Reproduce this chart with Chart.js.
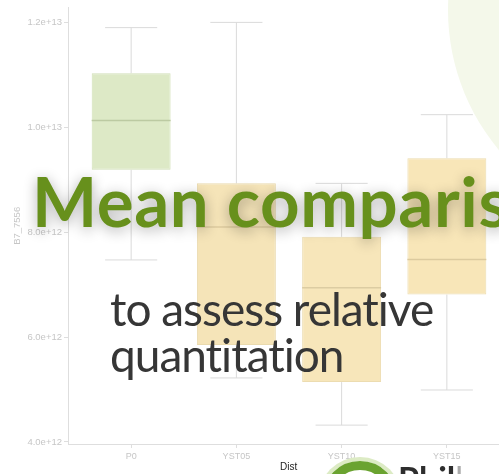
<!DOCTYPE html>
<html>
<head>
<meta charset="utf-8">
<script src="https://cdn.jsdelivr.net/npm/chart.js@4"></script>
<style>
  html, body { margin: 0; padding: 0; width: 499px; height: 474px; overflow: hidden; background: #fff; }
  body { position: relative; }
  #deco { position: absolute; left: 448px; top: -208px; width: 436px; height: 436px; border-radius: 50%; background: #f4f8ea; }
  #wrap { position: absolute; left: 0; top: 0; width: 510px; height: 474px; }
  #title { position: absolute; left: 32px; top: 161px; font-family: Lato, sans-serif; font-weight: 700; font-size: 69px; line-height: 80px; letter-spacing: 0.6px; color: #67901c; white-space: nowrap; text-shadow: 0 3px 14px rgba(0,0,0,0.32); }
  #sub { position: absolute; left: 110px; top: 286px; font-family: Lato, sans-serif; font-size: 46px; line-height: 46px; letter-spacing: -1px; color: #363636; white-space: nowrap; }
  #dist { position: absolute; left: 280px; top: 461px; font-family: "Liberation Sans", Arial, sans-serif; font-size: 10px; color: #222; }
  #logo { position: absolute; left: 322px; top: 461px; width: 58px; height: 58px; border-radius: 50%; border: 9px solid #6aa330; box-shadow: 0 0 0 4px #dcebc4; }
  #brand { position: absolute; left: 398px; top: 458px; font-family: Lato, sans-serif; font-weight: 700; font-size: 34px; color: #2e2e2e; white-space: nowrap; }
</style>
</head>
<body>
<div id="deco"></div>
<div id="wrap"><canvas id="boxChart" width="510" height="474"></canvas></div>
<div id="title">Mean comparison</div>
<div id="sub">to assess relative<br>quantitation</div>
<div id="dist">Dist</div>
<div id="logo"></div>
<div id="brand">Phil<span style="color:#aaa;font-weight:400">ke</span></div>
<script>
const categories = ["P0", "YST05", "YST10", "YST15"];
const whiskerLow = [7.47e12, 5.22e12, 4.32e12, 4.99e12];
const boxLow = [9.19e12, 5.85e12, 5.14e12, 6.81e12];
const medians = [10.13e12, 8.10e12, 6.94e12, 7.48e12];
const boxHigh = [11.03e12, 8.93e12, 7.91e12, 9.41e12];
const whiskerHigh = [11.9e12, 12.0e12, 8.93e12, 10.24e12];
const yTicks = [4e12, 6e12, 8e12, 10e12, 12e12];

const boxFill = ["#dde9c6", "#f5e4b8", "#f7e6ba", "#f8e6b8"];
const boxBorder = ["#d2e0b8", "#eadaae", "#ecdcb0", "#ecdcae"];
const medianColor = ["#bccaa2", "#dccb9f", "#dccca2", "#dcca9e"];
const axisColor = "#dedede";
const labelColor = "#c6c6c6";

// whiskers behind the boxes, medians on top
const boxplotLines = {
  id: "boxplotLines",
  beforeDatasetsDraw(chart) {
    const ctx = chart.ctx;
    const y = chart.scales.y;
    const bars = chart.getDatasetMeta(0).data;
    ctx.save();
    ctx.strokeStyle = "#dadada";
    ctx.lineWidth = 1;
    bars.forEach((bar, i) => {
      const cap = bar.width * 0.66 / 2;
      ctx.beginPath();
      ctx.moveTo(bar.x, y.getPixelForValue(whiskerHigh[i]));
      ctx.lineTo(bar.x, y.getPixelForValue(boxHigh[i]));
      ctx.moveTo(bar.x, y.getPixelForValue(boxLow[i]));
      ctx.lineTo(bar.x, y.getPixelForValue(whiskerLow[i]));
      ctx.moveTo(bar.x - cap, y.getPixelForValue(whiskerHigh[i]));
      ctx.lineTo(bar.x + cap, y.getPixelForValue(whiskerHigh[i]));
      ctx.moveTo(bar.x - cap, y.getPixelForValue(whiskerLow[i]));
      ctx.lineTo(bar.x + cap, y.getPixelForValue(whiskerLow[i]));
      ctx.stroke();
    });
    ctx.restore();
  },
  afterDatasetsDraw(chart) {
    const ctx = chart.ctx;
    const y = chart.scales.y;
    const bars = chart.getDatasetMeta(0).data;
    ctx.save();
    ctx.lineWidth = 1.5;
    bars.forEach((bar, i) => {
      const py = y.getPixelForValue(medians[i]);
      ctx.strokeStyle = medianColor[i];
      ctx.beginPath();
      ctx.moveTo(bar.x - bar.width / 2, py);
      ctx.lineTo(bar.x + bar.width / 2, py);
      ctx.stroke();
    });
    ctx.restore();
  }
};

const ctx = document.getElementById("boxChart").getContext("2d");
new Chart(ctx, {
  type: "bar",
  data: {
    datasets: [
      {
        data: categories.map((c, i) => ({ x: i, y: [boxLow[i], boxHigh[i]] })),
        backgroundColor: boxFill,
        borderColor: boxBorder,
        borderWidth: 1,
        borderSkipped: false,
        categoryPercentage: 1,
        barPercentage: 0.75,
      },
    ],
  },
  options: {
    responsive: false,
    animation: false,
    layout: { padding: 0 },
    plugins: { legend: { display: false }, tooltip: { enabled: false } },
    scales: {
      x: {
        type: "linear",
        min: -0.6,
        max: 3.6,
        offset: false,
        afterBuildTicks: (scale) => {
          scale.ticks = categories.map((c, i) => ({ value: i }));
        },
        afterFit: (scale) => {
          scale.height = 30;
        },
        ticks: {
          callback: (v) => categories[v],
          color: labelColor,
          font: { family: "Liberation Sans", size: 9 },
          padding: 3,
          autoSkip: false,
          maxRotation: 0,
        },
        grid: { offset: false, drawOnChartArea: false, color: axisColor, tickLength: 4 },
        border: { color: axisColor },
      },
      y: {
        min: 3.96e12,
        max: 12.28e12,
        afterBuildTicks: (scale) => {
          scale.ticks = yTicks.map((v) => ({ value: v }));
        },
        afterFit: (scale) => {
          scale.width = 68;
        },
        ticks: {
          callback: (v) => v.toExponential(1),
          color: labelColor,
          font: { family: "Liberation Sans", size: 9.5 },
          padding: 2,
        },
        title: {
          display: true,
          text: "B7_7556",
          color: labelColor,
          font: { family: "Liberation Sans", size: 9.5 },
          padding: { top: 12, bottom: 0 },
        },
        grid: { drawOnChartArea: false, color: axisColor, tickLength: 4 },
        border: { color: axisColor },
      },
    },
  },
  plugins: [boxplotLines],
});
</script>
</body>
</html>
